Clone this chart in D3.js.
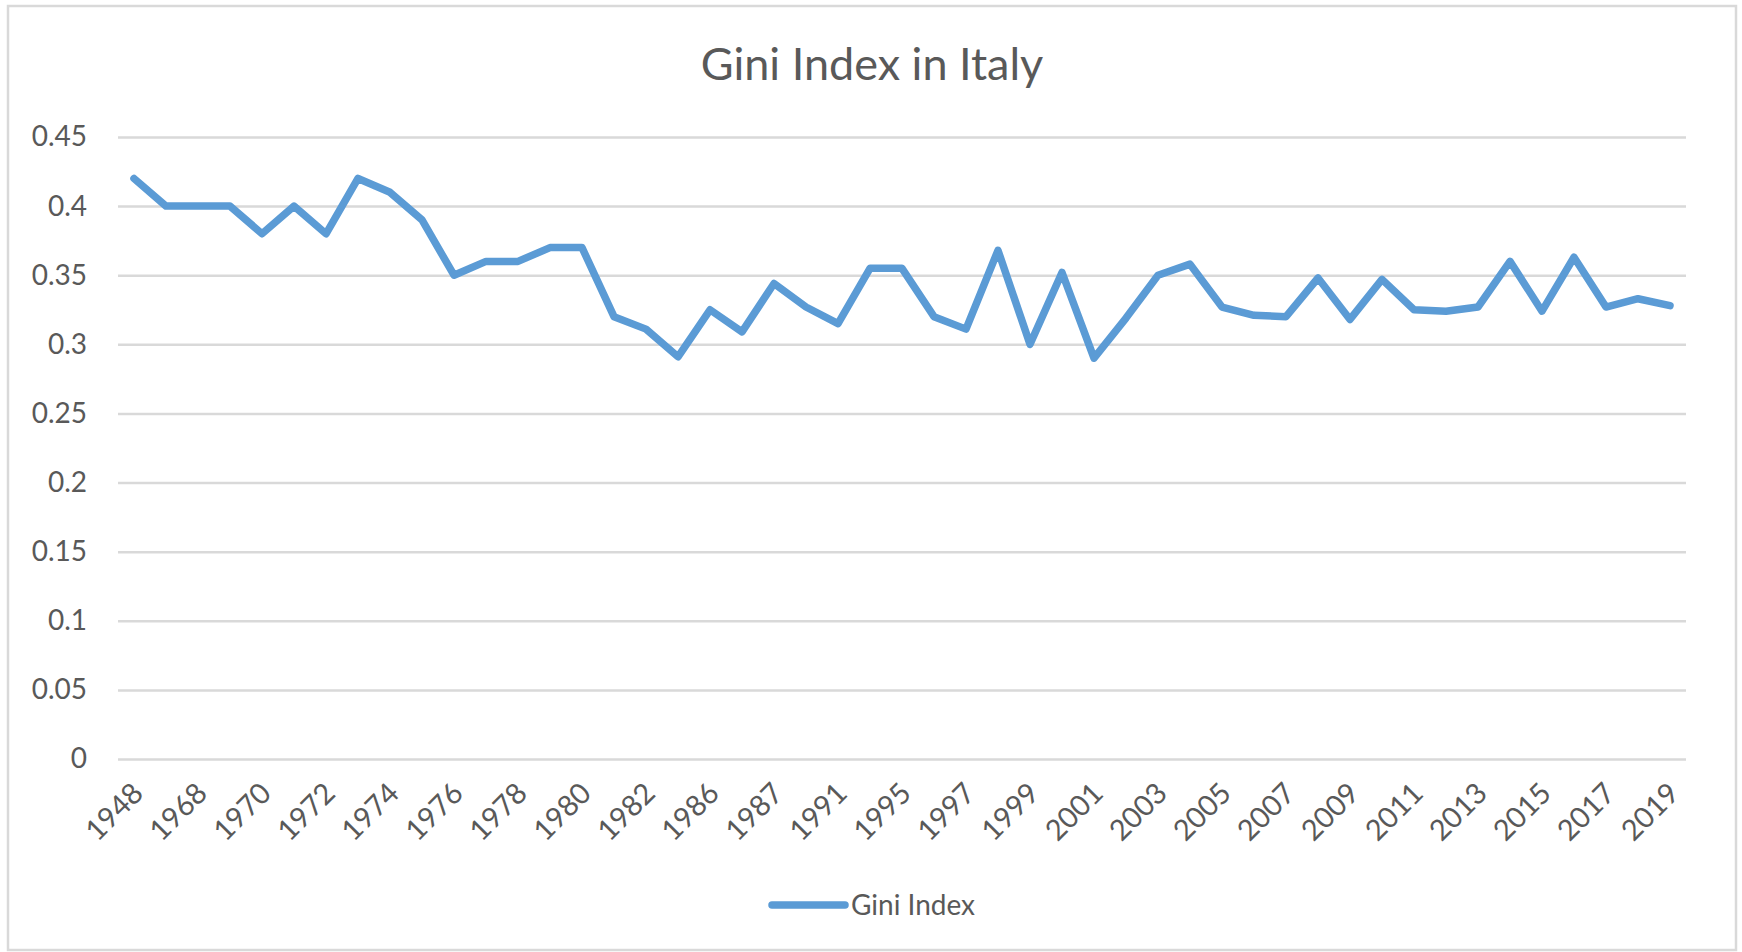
<!DOCTYPE html>
<html>
<head>
<meta charset="utf-8">
<script src="https://cdn.jsdelivr.net/npm/d3@7"></script>
<style>
  body { margin: 0; background: #fff; }
  svg { display: block; font-family: Lato, "Open Sans", sans-serif; }
</style>
</head>
<body>
<svg width="1742" height="952"></svg>
<script>
// years in the sheet (only every second one is labelled on the axis)
const years = ["1948","1967","1968","1969","1970","1971","1972","1973","1974","1975",
  "1976","1977","1978","1979","1980","1981","1982","1984","1986","1986",
  "1987","1989","1991","1993","1995","1996","1997","1998","1999","2000",
  "2001","2002","2003","2004","2005","2006","2007","2008","2009","2010",
  "2011","2012","2013","2014","2015","2016","2017","2018","2019"];
const gini = [0.42,0.40,0.40,0.40,0.38,0.40,0.38,0.42,0.41,0.39,
  0.35,0.36,0.36,0.37,0.37,0.32,0.311,0.291,0.325,0.309,
  0.344,0.327,0.315,0.355,0.355,0.32,0.311,0.368,0.30,0.352,
  0.29,0.319,0.35,0.358,0.327,0.321,0.32,0.348,0.318,0.347,
  0.325,0.324,0.327,0.36,0.324,0.363,0.327,0.333,0.328];
const yTicks = [0,0.05,0.1,0.15,0.2,0.25,0.3,0.35,0.4,0.45];
const seriesName = "Gini Index";
const chartTitle = "Gini Index in Italy";

const svg = d3.select("svg");
const margin = {top: 137, right: 56, bottom: 193, left: 118};
const width = +svg.attr("width") - margin.left - margin.right;
const height = +svg.attr("height") - margin.top - margin.bottom;
const grey = "#595959";

// chart frame
svg.append("rect")
    .attr("x", 8).attr("y", 6)
    .attr("width", 1728).attr("height", 944)
    .attr("fill", "#fff")
    .attr("stroke", "#d9d9d9")
    .attr("stroke-width", 2.5);

svg.append("text")
    .attr("x", 872).attr("y", 80)
    .attr("text-anchor", "middle")
    .attr("fill", grey)
    .attr("font-size", 45)
    .text(chartTitle);

const g = svg.append("g").attr("transform", "translate(" + margin.left + "," + margin.top + ")");

const x = d3.scaleBand()
    .domain(d3.range(years.length))
    .range([0, width]);
const y = d3.scaleLinear()
    .domain([0, 0.45])
    .range([height, 0]);

// gridlines + y labels
const yAxis = g.append("g")
    .call(d3.axisLeft(y).tickValues(yTicks).tickSize(-width).tickPadding(31)
      .tickFormat(d => d3.format("")(+d.toFixed(2))));
yAxis.select(".domain").remove();
yAxis.selectAll(".tick line").attr("stroke", "#d9d9d9").attr("stroke-width", 2.5);
yAxis.selectAll(".tick text").attr("fill", grey).attr("font-size", 28)
    .attr("font-family", "Lato, sans-serif");

// x labels, every second category
const xAxis = g.append("g")
    .attr("transform", "translate(0," + height + ")")
    .call(d3.axisBottom(x).tickValues(d3.range(0, years.length, 2)).tickSize(0)
      .tickFormat(i => years[i]));
xAxis.select(".domain").remove();
xAxis.selectAll(".tick text")
    .attr("fill", grey).attr("font-size", 29)
    .attr("font-family", "Lato, sans-serif")
    .attr("text-anchor", "end")
    .attr("dy", 0).attr("y", 0)
    .attr("transform", "translate(11,36) rotate(-45)");

const line = d3.line()
    .x((d, i) => x(i) + x.bandwidth() / 2)
    .y(d => y(d));

g.append("path")
    .datum(gini)
    .attr("fill", "none")
    .attr("stroke", "#5b9bd5")
    .attr("stroke-width", 7.5)
    .attr("stroke-linejoin", "round")
    .attr("stroke-linecap", "round")
    .attr("d", line);

// legend
const legend = svg.append("g").attr("transform", "translate(772,905)");
legend.append("line")
    .attr("x1", 0).attr("x2", 73)
    .attr("stroke", "#5b9bd5").attr("stroke-width", 7.5)
    .attr("stroke-linecap", "round");
legend.append("text")
    .attr("x", 79).attr("y", 10)
    .attr("fill", grey).attr("font-size", 28)
    .text(seriesName);
</script>
</body>
</html>
